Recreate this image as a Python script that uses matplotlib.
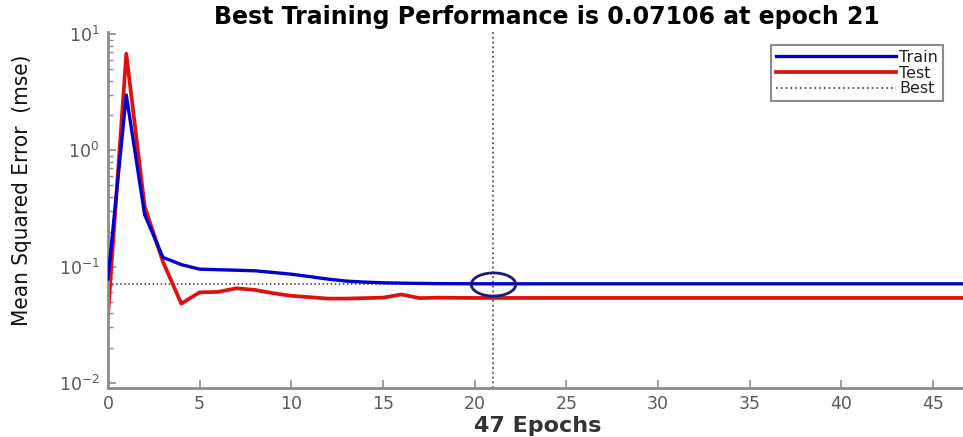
import numpy as np
import matplotlib
matplotlib.use("Agg")
import matplotlib.pyplot as plt
from matplotlib.path import Path
from matplotlib import font_manager

# performance record, one value per epoch (0..47)
epochs = list(range(48))
train_mse = [0.078, 3.0, 0.28, 0.12, 0.104, 0.095, 0.094, 0.093, 0.092, 0.089,
             0.086, 0.082, 0.078, 0.075, 0.0735, 0.0725, 0.0720, 0.0716, 0.0713, 0.0712,
             0.07110, 0.07106] + [0.07106] * 26
test_mse = [0.038, 6.8, 0.33, 0.11, 0.048, 0.0600, 0.0605, 0.0650, 0.0630, 0.0590,
            0.0560, 0.0545, 0.0530, 0.0530, 0.0535, 0.0540, 0.0575, 0.0535, 0.0540, 0.0538,
            0.0537, 0.0537] + [0.0537] * 26
best_epoch = 21
best_mse = 0.07106
n_epochs = 47

# narrow face for the y label if one is around
names = {f.name for f in font_manager.fontManager.ttflist}
narrow = [n for n in ("Liberation Sans Narrow", "DejaVu Sans Condensed") if n in names]
ylab_family = narrow + ["DejaVu Sans"]

fig = plt.figure(figsize=(9.63, 4.37), dpi=100)
ax = fig.add_axes([0.1121, 0.1128, 0.895, 0.8140])

ax.semilogy(epochs, train_mse, color="#0000d0", lw=2.4, label="Train", zorder=3)
ax.semilogy(epochs, test_mse, color="#e01010", lw=2.7, label="Test", zorder=2)
ax.axvline(best_epoch, color="#555555", ls=":", lw=1.3, label="Best", zorder=1)
ax.plot([0, best_epoch], [best_mse, best_mse], color="#333333", ls=":", lw=1.1, zorder=1)

# wide oval marker around the best point
t = np.linspace(0, 2 * np.pi, 60)
oval = Path(np.column_stack([np.cos(t), 0.52 * np.sin(t)]), closed=True)
ax.plot([best_epoch], [best_mse], marker=oval, ms=32, mfc="none", mec="#1a1a7a",
        mew=2.0, zorder=4)

ax.set_xlim(0, n_epochs)
ax.set_ylim(10 ** -2.043, 10 ** 1.02)
ax.set_xticks(range(0, 50, 5))

for side in ("top", "right"):
    ax.spines[side].set_visible(False)
for side in ("left", "bottom"):
    ax.spines[side].set_color("#8c8c8c")
    ax.spines[side].set_linewidth(2.0)

ax.tick_params(axis="both", which="both", direction="in", colors="#8c8c8c",
               labelcolor="#5a5a5a", labelsize=12.5)
ax.tick_params(which="major", length=6, width=1.2)
ax.tick_params(which="minor", length=3.5, width=1.0)
ax.tick_params(axis="x", pad=5)
ax.tick_params(axis="y", pad=6)

fig.text(547 / 963, 1 - 24 / 437, "Best Training Performance is 0.07106 at epoch 21",
         fontsize=17, fontweight="bold", family="DejaVu Sans", ha="center",
         va="baseline")
fig.text(538 / 963, 1 - 432 / 437, f"{n_epochs} Epochs", fontsize=16,
         fontweight="bold", family="DejaVu Sans", color="#333333", ha="center",
         va="baseline")
fig.text(22 / 963, 1 - 190 / 437, "Mean Squared Error  (mse)", fontsize=16,
         family=ylab_family, stretch="condensed", color="#111111",
         rotation=90, ha="center", va="center")

leg = ax.legend(loc="upper right", bbox_to_anchor=(0.979, 0.897),
                bbox_transform=fig.transFigure, borderaxespad=0, fontsize=11.5,
                handlelength=7.5, handletextpad=0.2, borderpad=0.3,
                labelspacing=0.05, fancybox=False, edgecolor="#8c8c8c",
                framealpha=1)
leg.get_frame().set_linewidth(1.5)
for txt in leg.get_texts():
    txt.set_color("#222222")

fig.savefig("out.png", dpi=100)
